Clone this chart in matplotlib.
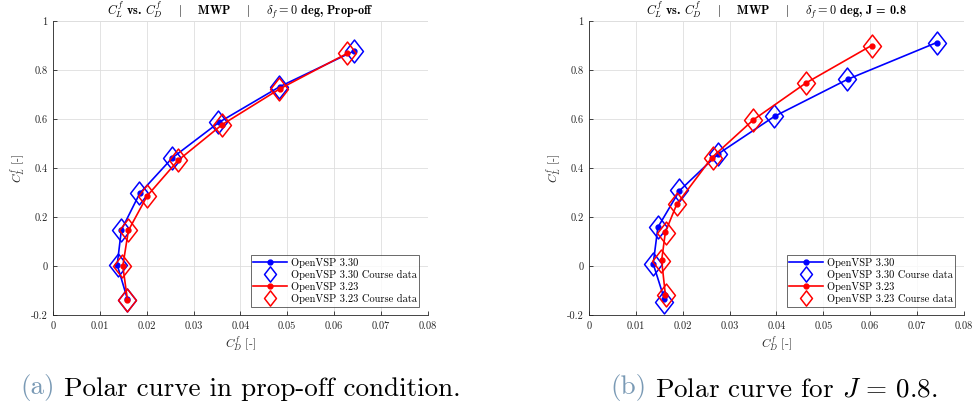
#!/usr/bin/env python3

import matplotlib
matplotlib.use('Agg')
import matplotlib.pyplot as plt
from matplotlib.path import Path

plt.rcParams['font.family'] = 'cmr10'
plt.rcParams['mathtext.fontset'] = 'cm'
plt.rcParams['axes.unicode_minus'] = False

# prop-off polar, OpenVSP 3.30 / 3.23 and their course data
off_cd_330 = [0.0642, 0.0484, 0.0354, 0.0255, 0.0185, 0.0146, 0.0137, 0.0159]
off_cl_330 = [0.877, 0.732, 0.586, 0.442, 0.296, 0.147, 0.005, -0.136]
off_cd_330c = [0.0643, 0.0483, 0.0353, 0.0254, 0.0184, 0.0146, 0.0138, 0.0159]
off_cl_330c = [0.877, 0.732, 0.588, 0.442, 0.296, 0.148, 0.003, -0.139]
off_cd_323 = [0.0628, 0.0484, 0.0361, 0.0267, 0.0201, 0.0161, 0.0149, 0.0159]
off_cl_323 = [0.868, 0.723, 0.577, 0.431, 0.286, 0.145, 0.000, -0.139]
off_cd_323c = [0.0628, 0.0483, 0.0361, 0.0267, 0.0201, 0.0161, 0.0147, 0.0159]
off_cl_323c = [0.868, 0.723, 0.577, 0.431, 0.286, 0.145, 0.000, -0.139]

# J = 0.8 polar
j08_cd_330 = [0.0742, 0.0552, 0.0396, 0.0276, 0.0193, 0.0147, 0.0137, 0.0161]
j08_cl_330 = [0.912, 0.762, 0.611, 0.458, 0.307, 0.158, 0.009, -0.136]
j08_cd_330c = [0.0742, 0.0550, 0.0394, 0.0276, 0.0193, 0.0147, 0.0136, 0.0160]
j08_cl_330c = [0.912, 0.763, 0.614, 0.458, 0.310, 0.158, 0.009, -0.145]
j08_cd_323 = [0.0603, 0.0463, 0.0351, 0.0262, 0.0187, 0.0163, 0.0155, 0.0163]
j08_cl_323 = [0.900, 0.747, 0.597, 0.442, 0.251, 0.138, 0.023, -0.118]
j08_cd_323c = [0.0603, 0.0463, 0.0351, 0.0264, 0.0187, 0.0165, 0.0153, 0.0165]
j08_cl_323c = [0.900, 0.747, 0.597, 0.442, 0.251, 0.136, 0.021, -0.118]

xticks = [0, 0.01, 0.02, 0.03, 0.04, 0.05, 0.06, 0.07, 0.08]
xtick_labels = ['0', '0.01', '0.02', '0.03', '0.04', '0.05', '0.06', '0.07', '0.08']
yticks = [-0.2, 0, 0.2, 0.4, 0.6, 0.8, 1]
ytick_labels = ['-0.2', '0', '0.2', '0.4', '0.6', '0.8', '1']

titles = ['Prop-off', 'J = 0.8']
caption_tags = ['(a)', '(b)']
caption_texts = [' Polar curve in prop-off condition.', ' Polar curve for $J\\,=\\,0.8$.']

# MATLAB-like diamond (a bit taller than wide)
diamond = Path([(0, 1), (0.78, 0), (0, -1), (-0.78, 0), (0, 1)],
               [Path.MOVETO, Path.LINETO, Path.LINETO, Path.LINETO, Path.CLOSEPOLY])

fig = plt.figure(figsize=(9.76, 4.08), dpi=100)
ax_l = fig.add_axes([0.0543, 0.228, 0.384, 0.7205])
ax_r = fig.add_axes([0.6035, 0.228, 0.384, 0.7205])

datasets = [
    (off_cd_330, off_cl_330, off_cd_330c, off_cl_330c, off_cd_323, off_cl_323, off_cd_323c, off_cl_323c),
    (j08_cd_330, j08_cl_330, j08_cd_330c, j08_cl_330c, j08_cd_323, j08_cl_323, j08_cd_323c, j08_cl_323c),
]

tick_col = '#262626'
sep = '    $|$    '

for i, ax in enumerate([ax_l, ax_r]):
    d = datasets[i]
    ax.plot(d[0], d[1], '-', color='#0000ff', lw=1.2, marker='o', ms=3.5, label='OpenVSP 3.30')
    ax.plot(d[2], d[3], ls='none', marker=diamond, ms=16.5, mfc='none', mec='#0000ff', mew=1.1,
            label='OpenVSP 3.30 Course data')
    ax.plot(d[4], d[5], '-', color='#ff0000', lw=1.2, marker='o', ms=3.5, label='OpenVSP 3.23')
    ax.plot(d[6], d[7], ls='none', marker=diamond, ms=16.5, mfc='none', mec='#ff0000', mew=1.1,
            label='OpenVSP 3.23 Course data')

    ax.set_xlim(0, 0.08)
    ax.set_ylim(-0.2, 1)
    ax.set_xticks(xticks)
    ax.set_xticklabels(xtick_labels)
    ax.set_yticks(yticks)
    ax.set_yticklabels(ytick_labels)
    ax.tick_params(direction='in', length=3, width=0.6, labelsize=7.5, colors=tick_col)
    ax.tick_params(axis='x', pad=5)
    ax.tick_params(axis='y', pad=4)
    for s in ['top', 'right']:
        ax.spines[s].set_visible(False)
    for s in ['left', 'bottom']:
        ax.spines[s].set_color(tick_col)
        ax.spines[s].set_linewidth(0.6)
    ax.set_axisbelow(True)
    ax.grid(True, color='#dedede', lw=0.6)
    # faint box lines at the upper/right limits
    ax.axhline(1, color='#dedede', lw=0.6, zorder=0)
    ax.axvline(0.08, color='#dedede', lw=0.6, zorder=0)

    ax.set_xlabel('$C_D^f$ [-]', fontsize=8.5, color=tick_col, labelpad=2)
    ax.set_ylabel('$C_L^f$ [-]', fontsize=8.5, color=tick_col, labelpad=3)

    ax.set_title('$C_L^f$ vs. $C_D^f$' + sep + 'MWP' + sep + '$\\delta_f = 0$ deg, ' + titles[i],
                 fontsize=8.8, family='cmb10', pad=0)

    leg = ax.legend(loc='lower right', fontsize=7.5, frameon=True, fancybox=False,
                    edgecolor='#262626', borderpad=0.25, labelspacing=0.2,
                    handlelength=3.2, handletextpad=0.4, borderaxespad=0.8)
    leg.get_frame().set_linewidth(0.6)
    # smaller diamonds inside the legend
    leg.legend_handles[1].set_markersize(11)
    leg.legend_handles[3].set_markersize(11)

# captions below each panel, tag in light blue
for i, xc in enumerate([0.0205, 0.625]):
    t1 = fig.text(xc, 0.034, caption_tags[i], fontsize=19.5, color='#7a9ab5', va='baseline')
    ax_l.annotate(caption_texts[i], xy=(1, 0), xycoords=t1, fontsize=19.5, color='black',
                  va='bottom', ha='left', annotation_clip=False)

fig.savefig('out.png', dpi=100)
